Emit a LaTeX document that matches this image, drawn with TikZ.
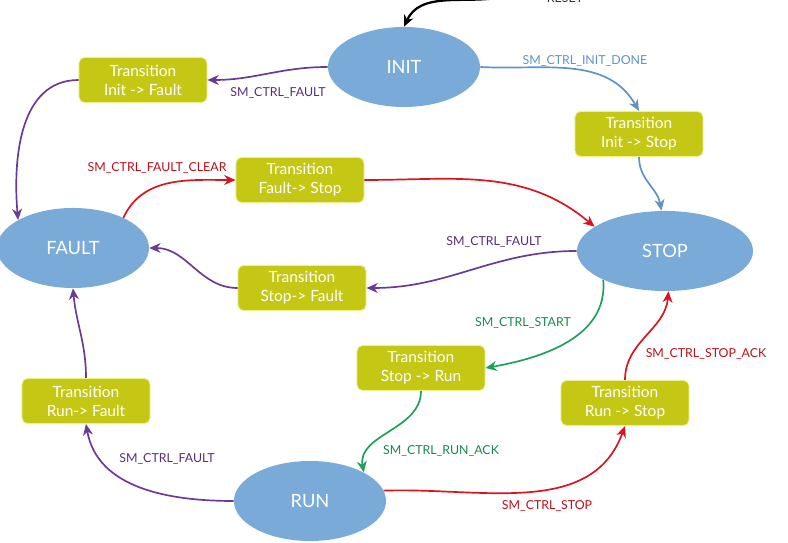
\documentclass[tikz,border=0pt]{standalone}
\usepackage{fontspec}
\setmainfont{Lato}
\usetikzlibrary{arrows.meta, shapes.geometric}

\definecolor{stateblue}{HTML}{7AAAD8}
\definecolor{transgreen}{HTML}{C4C814}
\definecolor{transrim}{HTML}{EEF08C}
\definecolor{linepurple}{HTML}{6B3A97}
\definecolor{lineblue}{HTML}{5F93C8}
\definecolor{linered}{HTML}{D9141E}
\definecolor{linegreen}{HTML}{1EA05A}

\begin{document}
\begin{tikzpicture}[x=0.025cm, y=0.025cm,
  state/.style={ellipse, fill=stateblue, text=white, minimum width=3.8cm, minimum height=2cm, inner sep=0pt, font=\fontsize{13}{15}\selectfont},
  trans/.style={rectangle, rounded corners=4pt, fill=transgreen, draw=transrim, line width=0.6pt, text=white, align=center, minimum width=3.2cm, minimum height=1.13cm, inner sep=1pt, font=\fontsize{11}{13.5}\selectfont},
  lbl/.style={font=\fontsize{8.8}{10}\selectfont, inner sep=1pt},
  arrow/.style={-{Stealth[length=8pt, width=7pt, inset=2.5pt]}, line width=1.2pt}]
\useasboundingbox (0,0) rectangle (788,543);

% states
\node[state] (init) at (404,476) {INIT};
\node[state] (fault) at (73,295) {FAULT};
\node[state, minimum width=4.4cm] (stop) at (665,292) {STOP};
\node[state] (run) at (310,42) {RUN};

% transitions
\node[trans] (initfault) at (143,463) {Transition\\Init -> Fault};
\node[trans] (initstop) at (639,409) {Transition\\Init -> Stop};
\node[trans] (faultstop) at (300,363) {Transition\\Fault-> Stop};
\node[trans] (stopfault) at (302,255) {Transition\\Stop-> Fault};
\node[trans] (stoprun) at (421,175) {Transition\\Stop -> Run};
\node[trans] (runstop) at (625,140) {Transition\\Run -> Stop};
\node[trans] (runfault) at (86,142) {Transition\\Run-> Fault};

% reset
\node[lbl, text=black!80] (reset) at (565,545) {RESET};
\coordinate (resetin) at (497,545);
\draw[arrow, line width=1.6pt] (resetin) to[out=188, in=65] (init.north);

% from init
\draw[arrow, linepurple] (init.west) to[out=180, in=0] (initfault.east);
\draw[arrow, linepurple] (initfault.west) to[out=180, in=95] (fault.153);
\draw[arrow, lineblue] (init.east) to[out=-3, in=120] (initstop.north);
\draw[arrow, lineblue] (initstop.south) to[out=-90, in=100] (stop.95);

% fault <-> stop
\draw[arrow, linered] (fault.31) to[out=65, in=180] (faultstop.west);
\draw[arrow, linered] (faultstop.east) to[out=0, in=140] (stop.161);
\draw[arrow, linepurple] (stop.west) to[out=180, in=0] (stopfault.east);
\draw[arrow, linepurple] (stopfault.west) to[out=180, in=0] (fault.east);

% stop <-> run
\draw[arrow, linegreen] (stop.205) to[out=-85, in=10] (stoprun.east);
\draw[arrow, linegreen] (stoprun.south) to[out=-90, in=100] (run.28);
\draw[arrow, linered] (run.8) to[out=2, in=-110] (runstop.south);
\draw[arrow, linered] (runstop.north) to[out=90, in=-95] (stop.-85);

% run -> fault
\draw[arrow, linepurple] (run.west) to[out=180, in=-80] (runfault.south);
\draw[arrow, linepurple] (runfault.north) to[out=90, in=-85] (fault.south);

% labels
\node[lbl, text=linepurple!80!black] (lfaultinit) at (278,450) {SM\_CTRL\_FAULT};
\node[lbl, text=lineblue] (linitdone) at (585,482) {SM\_CTRL\_INIT\_DONE};
\node[lbl, text=linered!85!black] (lfaultclear) at (157,375) {SM\_CTRL\_FAULT\_CLEAR};
\node[lbl, text=linepurple!80!black] (lfaultstop) at (494,301) {SM\_CTRL\_FAULT};
\node[lbl, text=linegreen!85!black] (lstart) at (523,220) {SM\_CTRL\_START};
\node[lbl, text=linegreen!85!black] (lrunack) at (441,92) {SM\_CTRL\_RUN\_ACK};
\node[lbl, text=linered!85!black] (lstoprun) at (547,37) {SM\_CTRL\_STOP};
\node[lbl, text=linered!85!black] (lstopack) at (706,189) {SM\_CTRL\_STOP\_ACK};
\node[lbl, text=linepurple!80!black] (lfaultrun) at (167,84) {SM\_CTRL\_FAULT};
\end{tikzpicture}
\end{document}
